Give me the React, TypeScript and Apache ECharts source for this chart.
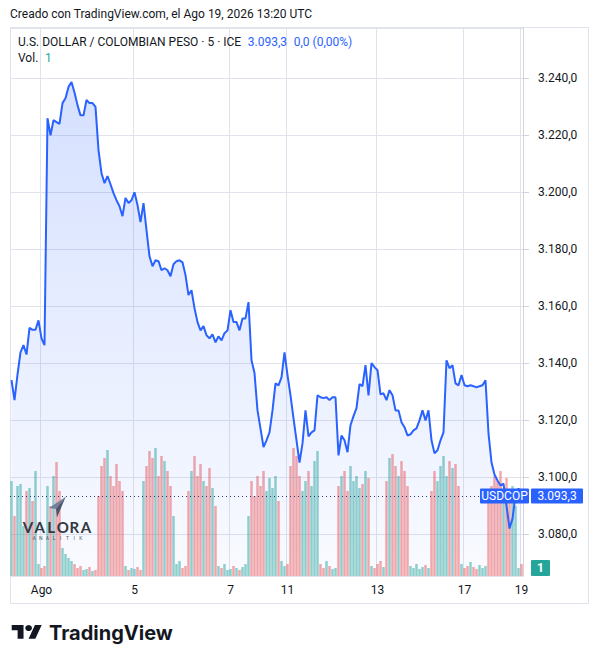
import React, { useEffect, useRef } from 'react';
import * as echarts from 'echarts';

const TITLE = 'Creado con TradingView.com, el Ago 19, 2026 13:20 UTC';
const SYMBOL = 'U.S. DOLLAR / COLOMBIAN PESO · 5 · ICE';
const TICKER = 'USDCOP';
const LAST_PRICE = 3093.3;
const CHANGE_TEXT = '0,0 (0,00%)';
const LAST_VOLUME = 1;

const dayLabels = ['Ago', '5', '7', '11', '13', '17', '19'];
const dayLabelIndex = [10, 41, 73, 92, 122, 151, 170];

const prices = [
  3134, 3127, 3136, 3143.8, 3146.3, 3143, 3152.4, 3151.7, 3151.7, 3155,
  3148.7, 3146.3, 3226, 3220, 3225.3, 3224.6, 3224, 3231.3, 3233, 3237,
  3238.7, 3235, 3230.6, 3227, 3227, 3232.4, 3231.3, 3231.3, 3230, 3214.8,
  3206.7, 3203.2, 3205.7, 3202.8, 3199.7, 3197.2, 3195.1, 3191.6, 3198, 3196.2,
  3197.2, 3200, 3195.5, 3189.5, 3196.2, 3186.7, 3177.5, 3174, 3176.1, 3175.8,
  3172.6, 3173.3, 3172.6, 3170.5, 3174.7, 3175.8, 3176.1, 3175.4, 3170.9, 3163.9,
  3165.6, 3159.3, 3154.4, 3151.5, 3153, 3149.8, 3148.7, 3150.1, 3147.3, 3149.4,
  3148, 3150.5, 3151.5, 3158.6, 3154.4, 3154.4, 3151.5, 3155.7, 3155.7, 3161.4,
  3141, 3136.5, 3123.4, 3117, 3110.5, 3112.9, 3115.7, 3123.4, 3132.9, 3132.2,
  3135, 3143.8, 3135.8, 3128.7, 3120.6, 3112.9, 3105.1, 3111.8, 3123.4, 3114.3,
  3115.7, 3116.4, 3128.7, 3128, 3127.7, 3128, 3127, 3128, 3128, 3107.6,
  3114.6, 3112.9, 3108.7, 3118.2, 3121.4, 3124.2, 3132.6, 3131.9, 3139.3, 3128.7,
  3140, 3138.6, 3137.5, 3129, 3129.4, 3127, 3130.5, 3128.7, 3123.4, 3123.4,
  3119.2, 3117.5, 3114.6, 3115, 3116.4, 3117.1, 3119.9, 3123.4, 3119.9, 3123.4,
  3112.9, 3108.3, 3109.4, 3112.9, 3115.7, 3141, 3138.2, 3139.3, 3132.9, 3132.2,
  3135.8, 3132.2, 3131.9, 3132.2, 3131.9, 3131.5, 3131.9, 3132.2, 3134, 3115.3,
  3105.1, 3100.9, 3098.8, 3097, 3097.7, 3090, 3081.9, 3085.4, 3093.5, 3096,
  3093.3,
];

const volumes = [
  95, 60, 90, 92, 50, 85, 88, 75, 105,
  12, 8, 10,
  90, 70, 100, 114, 85,
  28, 22, 18, 15,
  12, 8, 10, 6, 7, 9, 5, 6,
  80, 110, 118, 126, 100, 90, 112, 95, 85,
  10, 6, 8, 7, 9, 6,
  95, 110, 125, 118, 128, 100, 120, 115, 105, 90, 60,
  12, 15, 8, 10,
  85, 105, 120, 100, 112, 95, 90, 108, 88, 70,
  10, 8, 12, 6, 7, 10, 8, 6, 9, 12,
  60, 95, 80, 100, 90, 105, 85, 98, 88, 100, 75,
  15, 10, 12,
  110, 128, 120, 100, 85, 95, 105, 90, 115, 125,
  12, 8, 15, 10, 7, 8,
  90, 100, 105, 85, 110, 95, 100, 88, 92, 105, 98,
  10, 8, 12, 15, 9,
  95, 118, 122, 110, 100, 115, 105, 90,
  10, 8, 12, 7, 9, 11, 8,
  85, 105, 95, 110, 120, 100, 115, 108, 112, 90,
  12, 8, 10, 14, 9, 7, 11, 8, 10,
  75, 90, 100, 95, 105, 85, 98, 80, 90, 70,
  8, 12,
];

const FONT = 'Roboto, "Open Sans", sans-serif';

const fmt = (v: number) => {
  const [i, d] = v.toFixed(1).split('.');
  return i.replace(/\B(?=(\d{3})+(?!\d))/g, '.') + ',' + d;
};

export default function App() {
  const ref = useRef<HTMLDivElement>(null);

  useEffect(() => {
    if (!ref.current) return;
    const chart = echarts.init(ref.current, undefined, { renderer: 'svg' });
    const labelMap = new Map<number, string>();
    dayLabelIndex.forEach((idx, k) => labelMap.set(idx, dayLabels[k]));
    const cats = prices.map((_, i) => String(i));

    const volData = volumes.map((v, i) => {
      const up = i === 0 ? true : prices[i] >= prices[i - 1];
      return {
        value: v,
        itemStyle: { color: up ? 'rgba(38,166,154,0.5)' : 'rgba(239,83,80,0.5)' },
      };
    });

    chart.setOption({
      animation: false,
      textStyle: { fontFamily: FONT },
      grid: [
        { left: 10, right: 75, top: 28, bottom: 88 },
        { left: 10, right: 75, top: 446, bottom: 88 },
      ],
      xAxis: [
        {
          type: 'category',
          gridIndex: 0,
          data: cats,
          boundaryGap: true,
          axisLine: { show: false },
          axisTick: { show: false },
          axisLabel: {
            interval: (i: number) => labelMap.has(i),
            formatter: (v: string) => labelMap.get(Number(v)) ?? '',
            color: '#131722',
            fontSize: 12,
            margin: 8,
            fontFamily: FONT,
          },
          splitLine: {
            show: true,
            interval: (i: number) => labelMap.has(i),
            lineStyle: { color: '#e0e3eb', width: 1 },
          },
        },
        { type: 'category', gridIndex: 1, data: cats, boundaryGap: true, show: false },
      ],
      yAxis: [
        {
          type: 'value',
          gridIndex: 0,
          position: 'right',
          min: 3065.24,
          max: 3257.68,
          minInterval: 20,
          maxInterval: 20,
          splitNumber: 9,
          axisLine: { show: true, lineStyle: { color: '#d1d4dc' } },
          axisTick: { show: true, length: 6, lineStyle: { color: '#d1d4dc' } },
          axisLabel: {
            margin: 15,
            color: '#131722',
            fontSize: 12,
            fontFamily: FONT,
            formatter: (v: number) => fmt(v),
            showMinLabel: false,
            showMaxLabel: false,
          },
          splitLine: { lineStyle: { color: '#e0e3eb' } },
        },
        { type: 'value', gridIndex: 1, min: 0, max: 130, show: false, splitLine: { show: false } },
      ],
      series: [
        {
          type: 'bar',
          xAxisIndex: 1,
          yAxisIndex: 1,
          data: volData,
          barWidth: 2.5,
          z: 1,
        },
        {
          type: 'line',
          xAxisIndex: 0,
          yAxisIndex: 0,
          data: prices,
          symbol: 'none',
          showSymbol: false,
          lineStyle: { color: '#2962ff', width: 2 },
          areaStyle: {
            origin: 'start',
            color: new echarts.graphic.LinearGradient(0, 0, 0, 1, [
              { offset: 0, color: 'rgba(41,98,255,0.28)' },
              { offset: 1, color: 'rgba(41,98,255,0.04)' },
            ]),
          },
          z: 3,
          markLine: {
            symbol: 'none',
            silent: true,
            label: { show: false },
            lineStyle: { color: '#2a3a6a', type: [1, 3], width: 1 },
            data: [{ yAxis: LAST_PRICE }],
          },
        },
      ],
    });

    const py = chart.convertToPixel({ yAxisIndex: 0 }, LAST_PRICE) as number;

    const letters = 'VALORA'.split('');
    const sub = 'ANALITIK'.split('');

    chart.setOption({
      graphic: [
        {
          type: 'text',
          x: 10,
          y: 14,
          style: { text: TITLE, fill: '#131722', font: `12px ${FONT}`, textVerticalAlign: 'middle' },
        },
        {
          type: 'rect',
          shape: { x: 10.5, y: 27.5, width: 578, height: 576 },
          style: { fill: 'none', stroke: '#e0e3eb', lineWidth: 1 },
          z: -1,
        },
        {
          type: 'text',
          x: 18,
          y: 42,
          style: {
            text: `{a|${SYMBOL}}  {b|${fmt(LAST_PRICE)}}  {b|${CHANGE_TEXT}}`,
            textVerticalAlign: 'middle',
            rich: {
              a: { fill: '#131722', font: `12px ${FONT}` },
              b: { fill: '#2962ff', font: `12px ${FONT}` },
            },
          },
        },
        {
          type: 'text',
          x: 18,
          y: 58,
          style: {
            text: `{a|Vol.}  {c|${LAST_VOLUME}}`,
            textVerticalAlign: 'middle',
            rich: {
              a: { fill: '#131722', font: `12px ${FONT}` },
              c: { fill: '#26a69a', font: `12px ${FONT}` },
            },
          },
        },
        {
          type: 'rect',
          shape: { x: 480, y: py - 7.5, width: 49, height: 15, r: 1 },
          style: { fill: '#2962ff' },
          z: 10,
        },
        {
          type: 'text',
          x: 504.5,
          y: py,
          style: { text: TICKER, fill: '#ffffff', font: `12px ${FONT}`, textAlign: 'center', textVerticalAlign: 'middle' },
          z: 11,
        },
        {
          type: 'rect',
          shape: { x: 531, y: py - 7.5, width: 52, height: 15, r: 1 },
          style: { fill: '#2962ff' },
          z: 10,
        },
        {
          type: 'text',
          x: 557,
          y: py,
          style: { text: fmt(LAST_PRICE), fill: '#ffffff', font: `12px ${FONT}`, textAlign: 'center', textVerticalAlign: 'middle' },
          z: 11,
        },
        {
          type: 'rect',
          shape: { x: 531, y: 560, width: 19, height: 16, r: 1 },
          style: { fill: '#26a69a' },
          z: 10,
        },
        {
          type: 'text',
          x: 540.5,
          y: 568,
          style: { text: String(LAST_VOLUME), fill: '#ffffff', font: `bold 12px ${FONT}`, textAlign: 'center', textVerticalAlign: 'middle' },
          z: 11,
        },
        // Valora Analitik watermark
        {
          type: 'polygon',
          shape: { points: [[65.7, 496.7], [49, 508], [56, 509]] },
          style: { fill: '#6a7895', opacity: 0.9 },
          z: 8,
        },
        {
          type: 'polygon',
          shape: { points: [[65.7, 496.7], [56, 509], [57, 517.5]] },
          style: { fill: '#3b4863', opacity: 0.9 },
          z: 8,
        },
        ...letters.map((ch, k) => ({
          type: 'text',
          x: 28 + k * 11.6,
          y: 527,
          style: { text: ch, fill: '#333842', font: `bold 15px Lato, ${FONT}`, textAlign: 'center', textVerticalAlign: 'middle' },
          z: 8,
        })),
        ...sub.map((ch, k) => ({
          type: 'text',
          x: 34 + k * 6.7,
          y: 538,
          style: { text: ch, fill: '#555a66', font: `5px ${FONT}`, textAlign: 'center', textVerticalAlign: 'middle' },
          z: 8,
        })),
        // TradingView logo
        {
          type: 'group',
          x: 11.7,
          y: 625 - 4 * 0.76,
          scaleX: 0.845,
          scaleY: 0.76,
          children: [
            { type: 'polygon', shape: { points: [[0, 4], [14, 4], [14, 22], [7, 22], [7, 11], [0, 11]] }, style: { fill: '#131722' } },
            { type: 'circle', shape: { cx: 20, cy: 8, r: 4 }, style: { fill: '#131722' } },
            { type: 'polygon', shape: { points: [[20, 22], [27.5, 4], [35.5, 4], [28, 22]] }, style: { fill: '#131722' } },
          ],
        },
        {
          type: 'text',
          x: 49,
          y: 633,
          style: { text: 'TradingView', fill: '#131722', font: 'bold 20px Inter, Roboto, sans-serif', textVerticalAlign: 'middle' },
        },
      ],
    });

    return () => chart.dispose();
  }, []);

  return (
    <div
      ref={ref}
      style={{ position: 'absolute', left: 0, top: 0, width: 598, height: 664, background: '#ffffff' }}
    />
  );
}
